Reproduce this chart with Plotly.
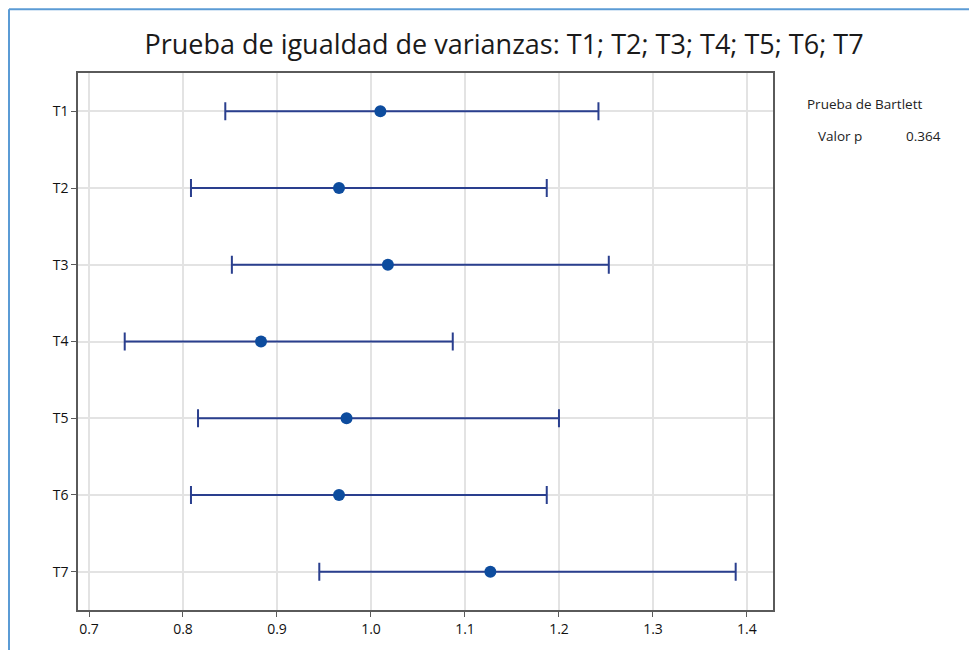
import plotly.graph_objects as go

categories = ["T1", "T2", "T3", "T4", "T5", "T6", "T7"]
centers = [1.010, 0.966, 1.018, 0.883, 0.974, 0.966, 1.127]
lower = [0.845, 0.8085, 0.852, 0.738, 0.816, 0.8085, 0.945]
upper = [1.242, 1.187, 1.253, 1.087, 1.200, 1.187, 1.388]
x_ticks = [0.7, 0.8, 0.9, 1.0, 1.1, 1.2, 1.3, 1.4]
x_tick_labels = ["0.7", "0.8", "0.9", "1.0", "1.1", "1.2", "1.3", "1.4"]
p_value = "0.364"

err_plus = [u - c for u, c in zip(upper, centers)]
err_minus = [c - l for c, l in zip(centers, lower)]

FONT = "Open Sans, Noto Sans, sans-serif"
OFF = 8  # page body margin
W, H = 977 - OFF, 650 - OFF
L, T = 78 - OFF, 73 - OFF
R = W - (773 - OFF)
B = H - (612 - OFF)
pw, ph = W - L - R, H - T - B

fig = go.Figure()
fig.add_trace(go.Scatter(
    x=centers, y=categories, mode="markers",
    marker=dict(color="#0D4C9E", size=12, symbol="circle"),
    error_x=dict(type="data", symmetric=False, array=err_plus, arrayminus=err_minus,
                 color="#2A3F8E", thickness=2, width=9),
    showlegend=False, hoverinfo="x+y",
))

def px_x(p):
    return (p - OFF - L) / pw

def px_y(p):
    return (H - B - (p - OFF)) / ph

tick_font = dict(family=FONT, size=14, color="#111111", weight=500)

fig.update_layout(
    width=W, height=H,
    margin=dict(l=L, r=R, t=T, b=B),
    paper_bgcolor="white", plot_bgcolor="white",
    font=dict(family=FONT, color="#222222", size=14),
    title=dict(text="Prueba de igualdad de varianzas: T1; T2; T3; T4; T5; T6; T7",
               x=(504 - OFF) / W, xref="container", xanchor="center",
               y=1 - (45 - OFF) / H, yref="container", yanchor="middle",
               font=dict(family=FONT, size=27, color="#1A1A1A")),
    xaxis=dict(range=[0.6883, 1.4277], tickvals=x_ticks, ticktext=x_tick_labels,
               showgrid=True, gridcolor="#E3E3E3", gridwidth=2,
               showline=True, linecolor="#5A5A5A", linewidth=1.5, mirror=True,
               ticks="outside", ticklen=5, tickcolor="#5A5A5A", tickwidth=1,
               zeroline=False, tickfont=tick_font),
    yaxis=dict(categoryorder="array", categoryarray=categories,
               range=[6.5, -0.5],
               showgrid=True, gridcolor="#E3E3E3", gridwidth=2,
               showline=True, linecolor="#5A5A5A", linewidth=1.5, mirror=True,
               ticks="outside", ticklen=5, tickcolor="#5A5A5A", tickwidth=1,
               zeroline=False, tickfont=tick_font),
    shapes=[
        dict(type="line", xref="paper", yref="paper",
             x0=px_x(9), x1=px_x(9), y0=px_y(9), y1=px_y(660),
             line=dict(color="#5B9BD5", width=2)),
        dict(type="line", xref="paper", yref="paper",
             x0=px_x(9), x1=px_x(990), y0=px_y(9), y1=px_y(9),
             line=dict(color="#5B9BD5", width=2)),
    ],
    annotations=[
        dict(text="Prueba de Bartlett", xref="paper", yref="paper",
             x=px_x(864), y=px_y(104), xanchor="center", yanchor="middle",
             showarrow=False, font=dict(family=FONT, size=13.5, color="#222222")),
        dict(text="Valor p", xref="paper", yref="paper",
             x=px_x(816), y=px_y(136), xanchor="left", yanchor="middle",
             showarrow=False, font=dict(family=FONT, size=13.5, color="#222222")),
        dict(text=p_value, xref="paper", yref="paper",
             x=px_x(943), y=px_y(136), xanchor="right", yanchor="middle",
             showarrow=False, font=dict(family=FONT, size=13.5, color="#222222")),
    ],
)

fig.write_html("out.html")
